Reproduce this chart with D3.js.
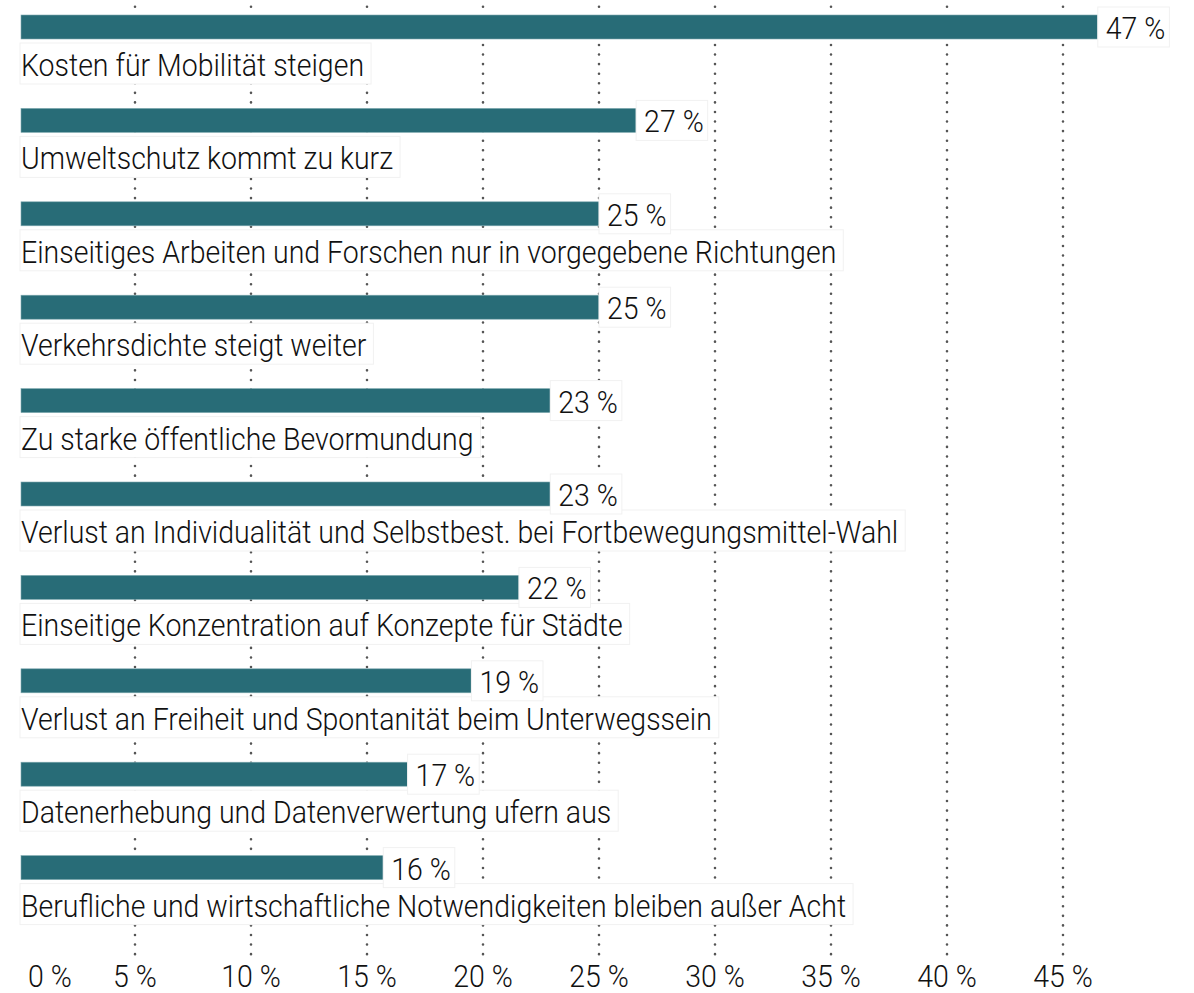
<!DOCTYPE html>
<meta charset="utf-8">
<style>
body { margin: 0; background: white; }
text { font-family: Roboto, "Liberation Sans", sans-serif; font-weight: 300; fill: #111; font-size: 32px; }
.bar { fill: #286c77; stroke: #7fa9b0; stroke-width: 0.6px; }
.grid line { stroke: #555; stroke-width: 2.6px; stroke-linecap: round; stroke-dasharray: 0 9.57; }
.box { fill: white; stroke: #f1f1f1; stroke-width: 1px; }
</style>
<svg width="1194" height="993"></svg>
<script src="https://d3js.org/d3.v7.min.js"></script>
<script>

var categories = [
  "Kosten für Mobilität steigen",
  "Umweltschutz kommt zu kurz",
  "Einseitiges Arbeiten und Forschen nur in vorgegebene Richtungen",
  "Verkehrsdichte steigt weiter",
  "Zu starke öffentliche Bevormundung",
  "Verlust an Individualität und Selbstbest. bei Fortbewegungsmittel-Wahl",
  "Einseitige Konzentration auf Konzepte für Städte",
  "Verlust an Freiheit und Spontanität beim Unterwegssein",
  "Datenerhebung und Datenverwertung ufern aus",
  "Berufliche und wirtschaftliche Notwendigkeiten bleiben außer Acht"
];
var values = [46.5, 26.6, 25.0, 25.0, 22.9, 22.9, 21.55, 19.5, 16.75, 15.7];
var valueLabels = ["47 %", "27 %", "25 %", "25 %", "23 %", "23 %", "22 %", "19 %", "17 %", "16 %"];
var ticks = [0, 5, 10, 15, 20, 25, 30, 35, 40, 45];
var tickLabels = ["0 %", "5 %", "10 %", "15 %", "20 %", "25 %", "30 %", "35 %", "40 %", "45 %"];

var svg = d3.select("svg"),
    margin = {top: 15, left: 19},
    width = 1044,
    step = 93.4,
    barH = 24,
    squeeze = 0.89; // horizontal squeeze to mimic a condensed face

var x = d3.scaleLinear().domain([0, 45]).range([margin.left, margin.left + width]);
var y = d3.scaleBand().domain(d3.range(categories.length))
    .range([margin.top, margin.top + step * categories.length]);

function place(px, py) {
  return "translate(" + px + "," + py + ") scale(" + squeeze + ",1)";
}

// dotted grid
svg.append("g").attr("class", "grid")
  .selectAll("line")
  .data(ticks.filter(function(t) { return t > 0; }))
  .join("line")
    .attr("x1", x).attr("x2", x)
    .attr("y1", 6.7).attr("y2", 955);

var rows = svg.append("g").selectAll("g")
  .data(categories)
  .join("g")
    .attr("transform", function(d, i) { return "translate(0," + y(i) + ")"; });

rows.append("rect")
    .attr("class", "bar")
    .attr("x", x(0) + 2)
    .attr("y", 0)
    .attr("width", function(d, i) { return x(values[i]) - x(0) - 2; })
    .attr("height", barH);

// category labels on white boxes
var catBox = rows.append("rect").attr("class", "box");
rows.append("text")
    .attr("transform", place(x(0) + 2, 61))
    .text(function(d) { return d; })
    .each(function(d, i) {
      var w = this.getComputedTextLength() * squeeze;
      d3.select(catBox.nodes()[i])
        .attr("x", x(0) + 1).attr("y", 28)
        .attr("width", w + 8).attr("height", 41);
    });

// value labels
var valBox = rows.append("rect").attr("class", "box");
rows.append("text")
    .attr("transform", function(d, i) { return place(x(values[i]) + 8, 24); })
    .text(function(d, i) { return valueLabels[i]; })
    .each(function(d, i) {
      var w = this.getComputedTextLength() * squeeze;
      d3.select(valBox.nodes()[i])
        .attr("x", x(values[i])).attr("y", -8)
        .attr("width", w + 12).attr("height", 40);
    });

// x axis labels
svg.append("g")
  .selectAll("text")
  .data(ticks)
  .join("text")
    .attr("text-anchor", "middle")
    .attr("transform", function(d) { return place(d === 0 ? x(d) + 31 : x(d), 987); })
    .text(function(d, i) { return tickLabels[i]; });

</script>
